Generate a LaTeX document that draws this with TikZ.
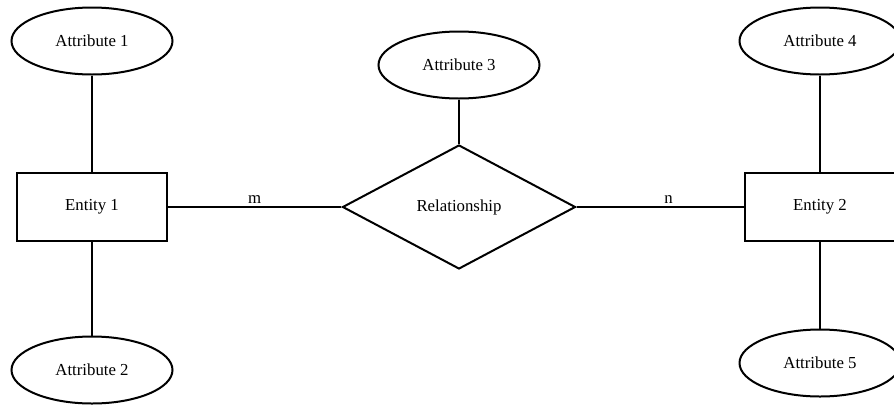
\documentclass[tikz,border=0pt]{standalone}
\usepackage{fontspec}
\setmainfont{Liberation Serif}
\usetikzlibrary{shapes.geometric}
\begin{document}
\begin{tikzpicture}[x=1pt,y=-1pt,
  every node/.style={font=\fontsize{16.8}{19}\selectfont, inner sep=0pt},
  attr/.style={ellipse, draw, line width=2pt, minimum width=161pt, minimum height=67pt},
  entity/.style={rectangle, draw, line width=2pt, minimum width=150pt, minimum height=68pt},
  rel/.style={diamond, draw, line width=2pt, minimum width=233pt, minimum height=124pt},
  link/.style={line width=2pt}]
\useasboundingbox (0,0) rectangle (894,405);

% entities and relationship
\node[entity] (e1) at (92,207) {Entity 1};
\node[entity] (e2) at (820,207) {Entity 2};
\node[rel] (r) at (459,207) {Relationship};

% attributes
\node[attr] (a1) at (92,41) {Attribute 1};
\node[attr] (a2) at (92,370) {Attribute 2};
\node[attr] (a3) at (459,65) {Attribute 3};
\node[attr] (a4) at (820,41) {Attribute 4};
\node[attr] (a5) at (820,363) {Attribute 5};

% connectors
\draw[link] (a1) -- (e1);
\draw[link] (e1) -- (a2);
\draw[link] (a3) -- (r);
\draw[link] (a4) -- (e2);
\draw[link] (e2) -- (a5);
\draw[link] (e1) -- node[above=3pt, pos=0.5] {m} (r);
\draw[link] (r) -- node[above=3pt, pos=0.55] {n} (e2);
\end{tikzpicture}
\end{document}
